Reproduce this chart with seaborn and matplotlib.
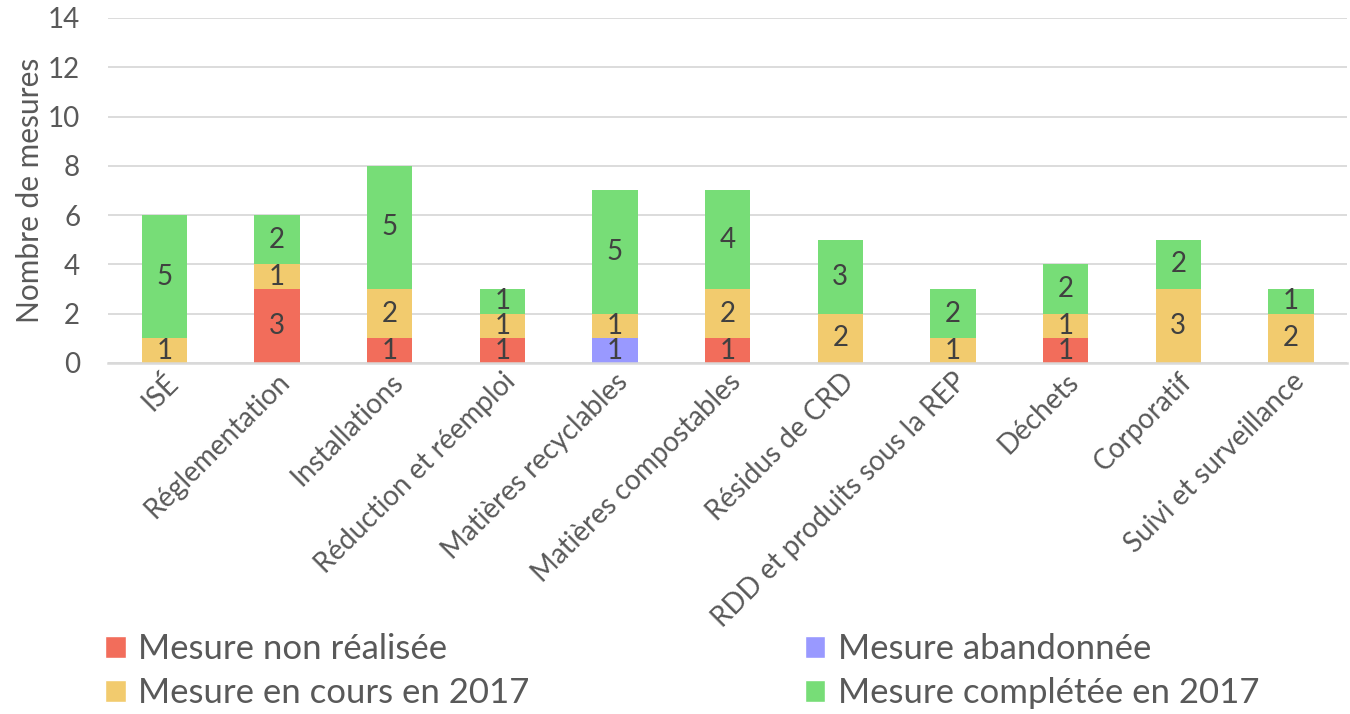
import numpy as np
import pandas as pd
import matplotlib
matplotlib.use('Agg')
import matplotlib.pyplot as plt
import seaborn as sns
from matplotlib.patches import Patch

categories = ['ISÉ', 'Réglementation', 'Installations', 'Réduction et réemploi',
              'Matières recyclables', 'Matières compostables', 'Résidus de CRD',
              'RDD et produits sous la REP', 'Déchets', 'Corporatif',
              'Suivi et surveillance']
non_realisee = [0, 3, 1, 1, 0, 1, 0, 0, 1, 0, 0]
abandonnee = [0, 0, 0, 0, 1, 0, 0, 0, 0, 0, 0]
en_cours = [1, 1, 2, 1, 1, 2, 2, 1, 1, 3, 2]
completee = [5, 2, 5, 1, 5, 4, 3, 2, 2, 2, 1]

series = ['Mesure non réalisée', 'Mesure abandonnée',
          'Mesure en cours en 2017', 'Mesure complétée en 2017']
colors = ['#F26D5B', '#9999FF', '#F2CB6E', '#77DD77']

sns.set_theme(style='white')
plt.rcParams['font.family'] = ['Lato', 'DejaVu Sans']
txt = '#595959'

df = pd.DataFrame({'cat': categories, 'a': non_realisee, 'b': abandonnee,
                   'c': en_cours, 'd': completee})
vals = df[['a', 'b', 'c', 'd']].to_numpy()
cum = np.cumsum(vals, axis=1)

fig = plt.figure(figsize=(13.5, 7.14), dpi=100)
ax = fig.add_axes([0.08, 0.4916, 0.918, 0.4832])

# draw cumulative totals from top layer down so lower layers cover them
for k in range(3, -1, -1):
    sns.barplot(x=df['cat'], y=cum[:, k], color=colors[k], width=0.4,
                saturation=1, ax=ax, zorder=2, edgecolor='none')

for i in range(len(categories)):
    base = 0
    for k in range(4):
        v = vals[i, k]
        if v > 0:
            ax.text(i, base + v / 2, str(v), ha='center', va='center',
                    fontsize=20, color='#404040', zorder=3)
        base += v

ax.set_ylim(0, 14)
ax.set_xlim(-0.5, len(categories) - 0.5)
ax.set_yticks(range(0, 15, 2))
ax.yaxis.grid(True, color='#D9D9D9', lw=1.3, zorder=0)
ax.set_axisbelow(True)
for s in ['top', 'right', 'left']:
    ax.spines[s].set_visible(False)
ax.spines['bottom'].set_color('#D9D9D9')
ax.spines['bottom'].set_linewidth(1.8)
ax.tick_params(axis='both', length=0, labelsize=20, colors=txt)
ax.tick_params(axis='y', pad=20)
ax.set_xlabel('')
ax.set_ylabel('Nombre de mesures', fontsize=21.5, color=txt, labelpad=3)
plt.setp(ax.get_xticklabels(), rotation=45, ha='right',
         rotation_mode='anchor')
ax.tick_params(axis='x', pad=4)

left = [Patch(facecolor=colors[k], label=series[k]) for k in [0, 2]]
right = [Patch(facecolor=colors[k], label=series[k]) for k in [1, 3]]
for hs, x0 in [(left, 0.0778), (right, 0.596)]:
    leg = fig.legend(handles=hs, loc='upper left', bbox_to_anchor=(x0, 0.113),
                     frameon=False, fontsize=25, labelcolor=txt,
                     handlelength=0.6, handleheight=0.6, handletextpad=0.35,
                     labelspacing=0.34, borderpad=0, borderaxespad=0)

fig.savefig('out.png', dpi=100)
